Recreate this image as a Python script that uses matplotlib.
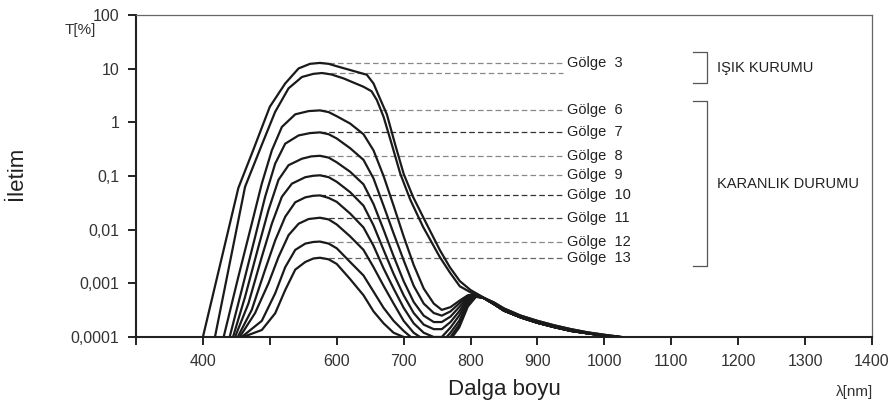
import numpy as np
import matplotlib.pyplot as plt

plt.rcParams['font.family'] = ['Liberation Sans', 'DejaVu Sans']

# --- transmission curves, T in % ---
# long-wave tails (all shades merge past ~820 nm)
tail_light_nm = [835, 850, 875, 900, 925, 950, 975, 1000, 1026]
tail_light_T = [0.00044, 0.00034, 0.00025, 0.0002, 0.000165, 0.00014, 0.000122, 0.00011, 0.0001]
tail_dark_nm = [835, 850, 875, 900, 925, 950, 975, 1000, 1022]
tail_dark_T = [0.00041, 0.00031, 0.000232, 0.000184, 0.000153, 0.00013, 0.000117, 0.000106, 0.0001]

g3a_nm = [400, 453, 475, 500, 523, 543, 560, 575, 588, 600, 630, 645, 655, 662, 675, 687, 700, 714, 734, 754, 769, 784, 800, 820]
g3a_T = [0.0001, 0.06, 0.3, 1.95, 5.3, 10.1, 12.3, 12.8, 12.3, 11.1, 8.7, 7.7, 5.3, 3.3, 1.4, 0.40, 0.11, 0.041, 0.013, 0.0042, 0.002, 0.0011, 0.00075, 0.00054]

g3b_nm = [418, 463, 488, 508, 528, 548, 565, 578, 592, 610, 640, 652, 660, 670, 682, 695, 710, 729, 754, 769, 784, 800, 820]
g3b_T = [0.0001, 0.063, 0.38, 1.57, 4.3, 7.0, 8.0, 8.3, 7.8, 6.6, 4.6, 3.8, 2.6, 1.27, 0.40, 0.11, 0.036, 0.0113, 0.0031, 0.0016, 0.00088, 0.00068, 0.00053]

g6_nm = [431, 453, 473, 488, 503, 518, 538, 558, 575, 588, 600, 620, 640, 655, 670, 685, 700, 715, 730, 745, 757, 770, 783, 796, 808, 820]
g6_T = [0.0001, 0.00133, 0.0129, 0.072, 0.30, 0.82, 1.41, 1.62, 1.67, 1.55, 1.3, 0.95, 0.6, 0.3, 0.1, 0.028, 0.0075, 0.0022, 0.0008, 0.00042, 0.00032, 0.00036, 0.00047, 0.0006, 0.00063, 0.00053]

g7_nm = [440, 458, 478, 493, 508, 523, 543, 560, 575, 588, 600, 620, 640, 655, 670, 685, 700, 715, 730, 745, 757, 770, 783, 796, 808, 820]
g7_T = [0.0001, 0.00075, 0.0073, 0.041, 0.17, 0.40, 0.57, 0.63, 0.65, 0.6, 0.5, 0.33, 0.2, 0.09, 0.028, 0.0085, 0.0027, 0.0009, 0.00042, 0.00028, 0.00025, 0.0003, 0.00042, 0.00058, 0.00062, 0.00053]

g8_nm = [445, 463, 483, 498, 513, 528, 548, 562, 575, 588, 600, 620, 640, 655, 670, 685, 700, 715, 730, 745, 757, 770, 783, 796, 808, 820]
g8_T = [0.0001, 0.00056, 0.0048, 0.0232, 0.085, 0.159, 0.21, 0.232, 0.238, 0.22, 0.18, 0.12, 0.07, 0.03, 0.01, 0.0032, 0.0011, 0.00045, 0.00025, 0.00019, 0.00019, 0.00024, 0.00036, 0.00055, 0.00061, 0.00053]

g9_nm = [448, 468, 488, 503, 518, 533, 553, 565, 575, 588, 600, 620, 640, 655, 670, 685, 700, 715, 730, 745, 757, 770, 783, 796, 808, 820]
g9_T = [0.0001, 0.00042, 0.0031, 0.0129, 0.041, 0.072, 0.095, 0.101, 0.103, 0.095, 0.078, 0.05, 0.028, 0.012, 0.0042, 0.0015, 0.0006, 0.00028, 0.00017, 0.00014, 0.00014, 0.00019, 0.0003, 0.00052, 0.0006, 0.00053]

g10_nm = [452, 473, 493, 508, 523, 538, 553, 565, 575, 588, 600, 620, 640, 655, 670, 685, 700, 715, 730, 745, 757, 770, 783, 796, 808, 820]
g10_T = [0.0001, 0.00032, 0.0018, 0.0063, 0.0174, 0.0324, 0.04, 0.0428, 0.0435, 0.039, 0.033, 0.02, 0.011, 0.005, 0.0019, 0.0008, 0.00035, 0.00018, 0.00012, 0.0001, 0.0001, 0.00015, 0.00025, 0.00048, 0.00059, 0.00053]

g11_nm = [455, 478, 498, 513, 528, 543, 558, 575, 588, 600, 620, 640, 655, 670, 685, 700, 715, 730, 745, 757, 770, 783, 796, 808, 820]
g11_T = [0.0001, 0.00028, 0.001, 0.0031, 0.0079, 0.0129, 0.0158, 0.0167, 0.0155, 0.0125, 0.0075, 0.0042, 0.002, 0.0009, 0.00042, 0.0002, 0.00012, 0.00009, 0.00008, 0.00008, 0.00012, 0.0002, 0.00044, 0.00058, 0.00053]

g12_nm = [458, 488, 508, 523, 538, 553, 565, 575, 588, 600, 620, 640, 655, 670, 685, 700, 715, 730, 745, 757, 770, 783, 796, 808, 820]
g12_T = [0.0001, 0.0002, 0.00065, 0.002, 0.0042, 0.0055, 0.0059, 0.006, 0.0055, 0.0045, 0.0025, 0.0014, 0.0007, 0.00035, 0.0002, 0.00013, 0.00009, 0.00007, 0.00006, 0.00006, 0.0001, 0.00017, 0.0004, 0.00057, 0.00053]

g13_nm = [460, 488, 508, 523, 538, 553, 565, 575, 588, 600, 620, 640, 655, 670, 685, 700, 715, 730, 745, 757, 770, 783, 796, 808, 820]
g13_T = [0.0001, 0.000135, 0.000276, 0.00075, 0.0018, 0.0025, 0.0029, 0.003, 0.0028, 0.0023, 0.0012, 0.0006, 0.0003, 0.00018, 0.00012, 0.0001, 0.00008, 0.00007, 0.00006, 0.00006, 0.00009, 0.00015, 0.00037, 0.00056, 0.00053]

curve_nm = [g3a_nm, g3b_nm, g6_nm, g7_nm, g8_nm, g9_nm, g10_nm, g11_nm, g12_nm, g13_nm]
curve_T = [g3a_T, g3b_T, g6_T, g7_T, g8_T, g9_T, g10_T, g11_T, g12_T, g13_T]
shade_labels = ['Gölge  3', None, 'Gölge  6', 'Gölge  7', 'Gölge  8', 'Gölge  9',
                'Gölge  10', 'Gölge  11', 'Gölge  12', 'Gölge  13']

x_ticks = [300, 400, 500, 600, 700, 800, 900, 1000, 1100, 1200, 1300, 1400]
x_ticklabels = ['', '400', '', '600', '700', '800', '900', '1000', '1100', '1200', '1300', '1400']
y_ticks = [1e-4, 1e-3, 1e-2, 1e-1, 1, 10, 100]
y_ticklabels = ['0,0001', '0,001', '0,01', '0,1', '1', '10', '100']

# dashed leader colours (some darker in the original)
dash_colors = ['#888888', '#888888', '#888888', '#333333', '#888888',
               '#888888', '#333333', '#444444', '#888888', '#666666']

fig = plt.figure(figsize=(8.96, 4.08), dpi=100)
ax = fig.add_axes([136 / 896, 71 / 408, 736 / 896, 322 / 408])

ax.set_yscale('log')
ax.set_xlim(300, 1400)
ax.set_ylim(1e-4, 100)

label_x = 944
leader_end = 938

for i, (nm, T, lab, dc) in enumerate(zip(curve_nm, curve_T, shade_labels, dash_colors)):
    if i < 2:
        x = np.array(nm + tail_light_nm)
        y = np.array(T + tail_light_T)
    else:
        x = np.array(nm + tail_dark_nm)
        y = np.array(T + tail_dark_T)
    ax.plot(x, y, color='#1a1a1a', lw=1.6, solid_joinstyle='round',
            solid_capstyle='round', zorder=3)
    peak = int(np.argmax(T))
    ax.plot([nm[peak], leader_end], [T[peak], T[peak]], color=dc, lw=0.9,
            linestyle=(0, (4.5, 2.5)), zorder=2)
    if lab:
        ax.text(label_x, T[peak], lab, fontsize=10.5, ha='left', va='center',
                color='#222222')

# brackets for the two states
bx0, bx1 = 1133, 1153
for top, bot in [(20.6, 5.5), (2.48, 0.0021)]:
    ax.plot([bx0, bx1, bx1, bx0], [top, top, bot, bot], color='#555555',
            lw=0.9, zorder=2)
ax.text(1168, 10.4, 'IŞIK KURUMU', fontsize=10.5, ha='left', va='center', color='#222222')
ax.text(1168, 0.07, 'KARANLIK DURUMU', fontsize=10.5, ha='left', va='center', color='#222222')

# axes styling
ax.set_xticks(x_ticks)
ax.set_xticklabels(x_ticklabels)
ax.set_yticks(y_ticks)
ax.set_yticklabels(y_ticklabels)
ax.minorticks_off()
ax.tick_params(axis='both', direction='out', length=6, width=1.4,
               labelsize=11.5, colors='#222222', labelcolor='#333333')
ax.tick_params(axis='x', pad=6)
ax.tick_params(axis='y', pad=6)

for side in ['left', 'bottom']:
    ax.spines[side].set_linewidth(1.5)
    ax.spines[side].set_color('#222222')
for side in ['top', 'right']:
    ax.spines[side].set_linewidth(0.9)
    ax.spines[side].set_color('#666666')

fig.text(80 / 896, 1 - 30 / 408, 'T[%]', fontsize=11, ha='center', va='center', color='#333333')
fig.text(17 / 896, 1 - 173 / 408, 'İletim', fontsize=16, rotation=90, ha='center',
         va='center', color='#222222')
fig.text(504 / 896, 1 - 390 / 408, 'Dalga boyu', fontsize=16, ha='center', va='center',
         color='#222222')
fig.text(873 / 896, 1 - 392 / 408, 'λ[nm]', fontsize=11, ha='right', va='center',
         color='#333333')

fig.savefig('out.png', dpi=100, facecolor='white')
